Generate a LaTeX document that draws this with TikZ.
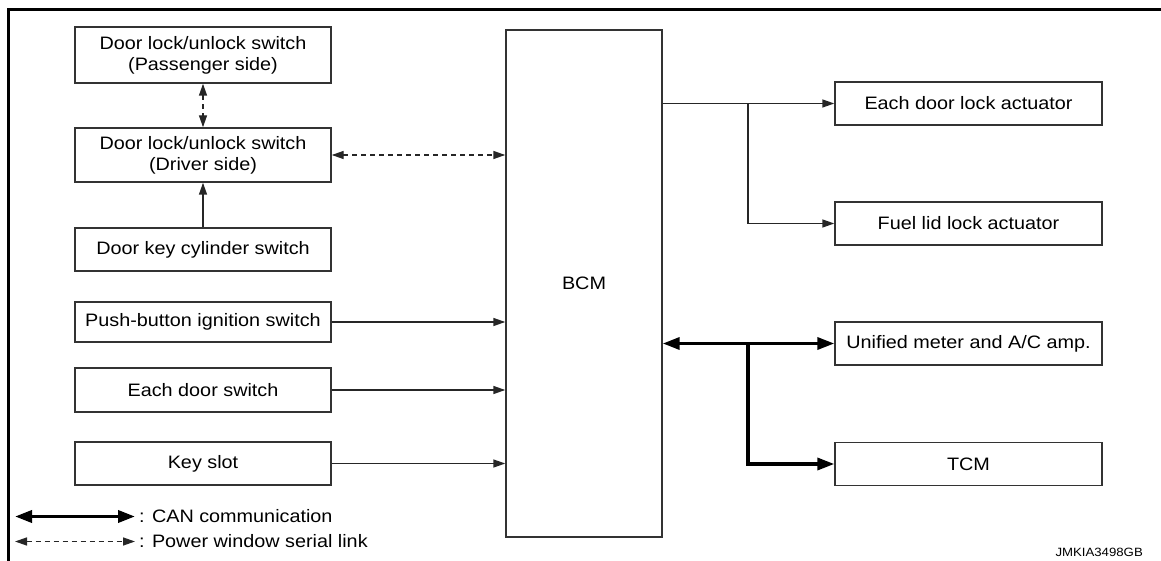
\documentclass[tikz,border=0pt]{standalone}
\usepackage{fontspec}
\setmainfont{Liberation Sans}[FakeStretch=1.1]
\usetikzlibrary{arrows.meta}
\definecolor{edge}{HTML}{333333}
\tikzset{
  blk/.style={draw=edge, line width=1.4pt, minimum width=256pt, minimum height=43pt, inner sep=0pt, align=center, font=\fontsize{18}{21}\selectfont},
  rblk/.style={blk, minimum width=267pt},
  wire/.style={draw=black!85, line width=1.4pt},
  tip/.style={-{Triangle[length=12pt,width=8pt]}},
  dtip/.style={{Triangle[length=12pt,width=8pt]}-{Triangle[length=12pt,width=8pt]}},
  dsh/.style={dash pattern=on 5pt off 4pt},
  can/.style={draw=black, line width=3.5pt, -{Triangle[length=17pt,width=12pt]}},
  can2/.style={draw=black, line width=3.5pt, {Triangle[length=17pt,width=12pt]}-{Triangle[length=17pt,width=12pt]}},
  lbl/.style={inner sep=0pt, anchor=west, font=\fontsize{18}{21}\selectfont}
}
\begin{document}
\begin{tikzpicture}[x=1pt,y=-1pt]
\useasboundingbox (0,0) rectangle (1161,561);
% frame
\draw[line width=3pt] (8,561) -- (8,9.5) -- (1161,9.5);
% left blocks
\node[blk, minimum height=56pt] (b1) at (203,55) {Door lock/unlock switch\\(Passenger side)};
\node[blk, minimum height=54pt] (b2) at (203,155) {Door lock/unlock switch\\(Driver side)};
\node[blk] (b3) at (203,249.5) {Door key cylinder switch};
\node[blk, minimum height=40pt] (b4) at (203,322) {Push-button ignition switch};
\node[blk, minimum height=44pt] (b5) at (203,390) {Each door switch};
\node[blk] (b6) at (203,463.5) {Key slot};
% BCM
\node[draw=edge, line width=1.4pt, minimum width=156pt, minimum height=507pt, inner sep=0pt, font=\fontsize{18}{21}\selectfont] (bcm) at (584,283.5) {BCM};
% right blocks
\node[rblk] (r1) at (968.5,103.5) {Each door lock actuator};
\node[rblk] (r2) at (968.5,223.5) {Fuel lid lock actuator};
\node[rblk] (r3) at (968.5,343.5) {Unified meter and A/C amp.};
\node[rblk] (r4) at (968.5,464) {TCM};
% left connectors
\draw[wire, dtip, dsh] (b1.south) -- (b2.north);
\draw[wire, tip] (b3.north) -- (b2.south);
\draw[wire, dtip, dsh] (b2.east) -- (b2.east -| bcm.west);
\draw[wire, tip] (b4.east) -- (b4.east -| bcm.west);
\draw[wire, tip] (b5.east) -- (b5.east -| bcm.west);
\draw[wire, tip] (b6.east) -- (b6.east -| bcm.west);
% right connectors
\coordinate (j1) at (748,103.5);
\coordinate (j2) at (748,343.5);
\draw[wire, tip] (r1.west -| bcm.east) -- (r1.west);
\draw[wire, tip] (j1) |- (r2.west);
\draw[can2] (r3.west -| bcm.east) -- (r3.west);
\draw[can] (j2) |- (r4.west);
% legend
\coordinate (la1) at (15,516.5);
\coordinate (la2) at (135,516.5);
\coordinate (lb1) at (15,541.5);
\coordinate (lb2) at (135,541.5);
\draw[can2] (la1) -- (la2);
\draw[wire, dtip, dsh] (lb1) -- (lb2);
\node[lbl] (t1) at (139,516.5) {: CAN communication};
\node[lbl] (t2) at (139,541.5) {: Power window serial link};
\node[inner sep=0pt, anchor=east, font=\fontsize{12}{14}\selectfont] (code) at (1143,552) {JMKIA3498GB};
\end{tikzpicture}
\end{document}
